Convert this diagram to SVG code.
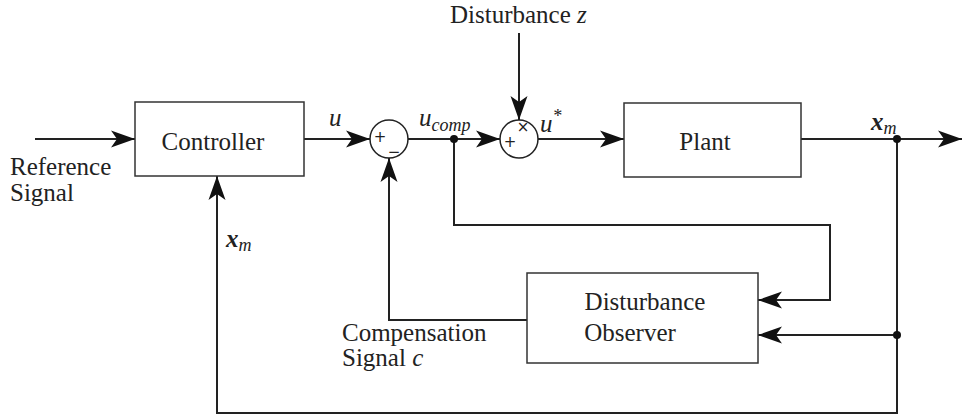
<svg xmlns="http://www.w3.org/2000/svg" width="963" height="420" viewBox="0 0 963 420">
  <style>
    .box { fill: #ffffff; stroke: #333333; stroke-width: 1.5; }
    .sum { fill: #ffffff; stroke: #222222; stroke-width: 1.5; }
    .wire { fill: none; stroke: #222222; stroke-width: 2; }
    .dot { fill: #111111; }
    text { font-family: "Liberation Serif", "Tinos", "Nimbus Roman", "FreeSerif", "Noto Serif", "DejaVu Serif", Times, serif; font-size: 25px; fill: #222222; }
    .math { font-style: italic; }
    .vec { font-style: italic; font-weight: bold; }
    .sub { font-size: 18px; }
    .sign { font-family: "DejaVu Sans", "Liberation Sans", sans-serif; font-size: 15px; text-anchor: middle; }
  </style>
  <defs>
    <marker id="arrow" markerUnits="userSpaceOnUse" markerWidth="26" markerHeight="20" refX="24" refY="10" orient="auto">
      <path d="M0,1.5 L24,10 L0,18.5 L6,10 z" fill="#111111"/>
    </marker>
  </defs>

  <!-- signal lines -->
  <g id="connectors">
    <path class="wire" d="M35,139 H135" marker-end="url(#arrow)"/>
    <path class="wire" d="M304,139 H370" marker-end="url(#arrow)"/>
    <path class="wire" d="M408,139 H500" marker-end="url(#arrow)"/>
    <path class="wire" d="M519,33 V120" marker-end="url(#arrow)"/>
    <path class="wire" d="M538,139 H624" marker-end="url(#arrow)"/>
    <path class="wire" d="M801,139 H962" marker-end="url(#arrow)"/>
    <path class="wire" d="M454,139 V225 H830 V300 H758" marker-end="url(#arrow)"/>
    <path class="wire" d="M897,139 V413 H217 V176" marker-end="url(#arrow)"/>
    <path class="wire" d="M897,335 H758" marker-end="url(#arrow)"/>
    <path class="wire" d="M527,320 H389 V158" marker-end="url(#arrow)"/>
    <circle class="dot" cx="454" cy="139" r="4"/>
    <circle class="dot" cx="897" cy="139" r="4"/>
    <circle class="dot" cx="897" cy="335" r="4"/>
  </g>

  <g id="controller">
    <rect class="box" x="135" y="102" width="169" height="74"/>
    <text x="213" y="150" text-anchor="middle">Controller</text>
  </g>

  <g id="sum-feedback">
    <circle class="sum" cx="389" cy="139" r="19"/>
    <text class="sign" x="380" y="142">+</text>
    <text class="sign" x="394" y="157">−</text>
  </g>

  <g id="sum-disturbance">
    <circle class="sum" cx="519" cy="139" r="19"/>
    <text class="sign" x="510" y="147">+</text>
    <text class="sign" x="523" y="132">×</text>
  </g>

  <g id="plant">
    <rect class="box" x="624" y="103" width="177" height="74"/>
    <text x="705" y="150" text-anchor="middle">Plant</text>
  </g>

  <g id="observer">
    <rect class="box" x="527" y="273" width="231" height="90"/>
    <text x="645" y="310" text-anchor="middle">Disturbance</text>
    <text x="630" y="341" text-anchor="middle">Observer</text>
  </g>

  <!-- signal labels -->
  <g id="labels">
    <text x="450" y="23">Disturbance <tspan class="math">z</tspan></text>
    <text x="10" y="175">Reference</text>
    <text x="10" y="201">Signal</text>
    <text x="342" y="341">Compensation</text>
    <text x="342" y="366">Signal <tspan class="math">c</tspan></text>
    <text class="math" x="329" y="126">u</text>
    <text class="math" x="419" y="126">u<tspan class="sub" dy="5">comp</tspan></text>
    <text class="math" x="540" y="132">u<tspan class="sub" dy="-10">*</tspan></text>
    <text class="vec" x="871" y="130">x<tspan class="math sub" dy="4" font-weight="normal">m</tspan></text>
    <text class="vec" x="226" y="247">x<tspan class="math sub" dy="4" font-weight="normal">m</tspan></text>
  </g>
</svg>
